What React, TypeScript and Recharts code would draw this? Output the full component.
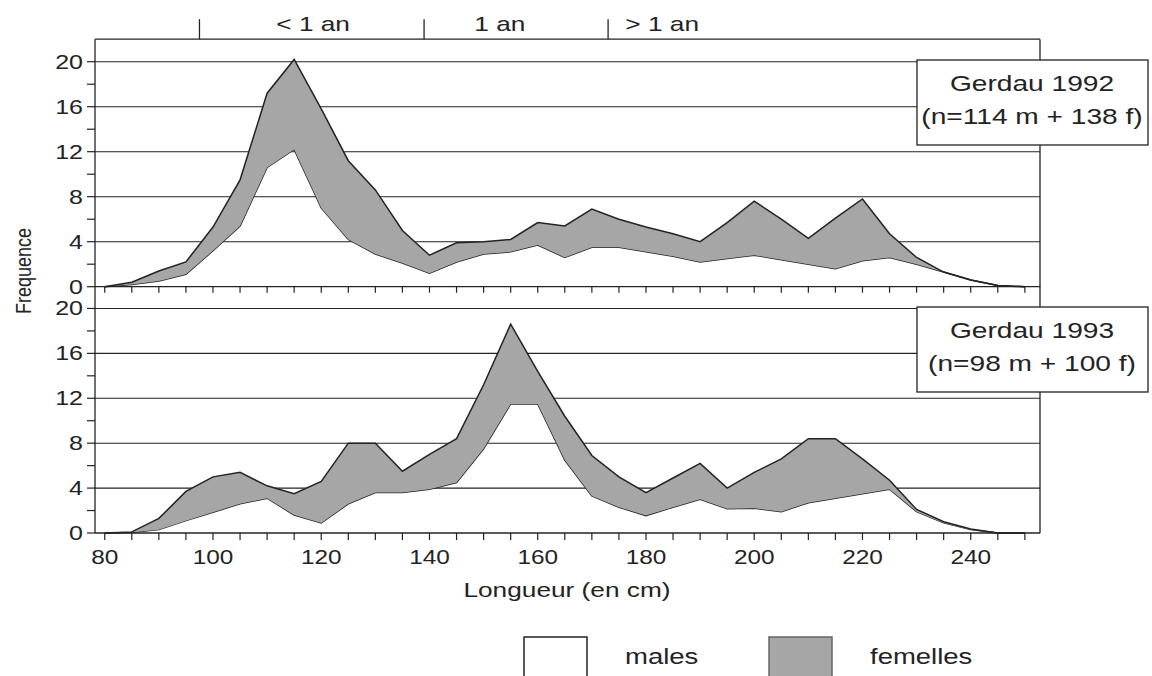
import React from 'react';
import { AreaChart, Area, XAxis, YAxis, CartesianGrid, ReferenceLine, ReferenceDot } from 'recharts';

// Length classes (cm), 5 cm steps
const LENGTHS = [80, 85, 90, 95, 100, 105, 110, 115, 120, 125, 130, 135, 140, 145, 150, 155, 160, 165, 170, 175, 180, 185, 190, 195, 200, 205, 210, 215, 220, 225, 230, 235, 240, 245, 250];

// Gerdau 1992 : males / femelles (femelles stacked on males)
const MALES_1992 = [0, 0.2, 0.5, 1.1, 3.2, 5.4, 10.6, 12.2, 7.0, 4.2, 2.9, 2.1, 1.2, 2.2, 2.9, 3.1, 3.7, 2.6, 3.5, 3.5, 3.1, 2.7, 2.2, 2.5, 2.8, 2.4, 2.0, 1.6, 2.3, 2.6, 2.0, 1.3, 0.6, 0.1, 0];
const FEMELLES_1992 = [0, 0.2, 0.9, 1.1, 2.1, 4.1, 6.6, 8.0, 8.8, 7.0, 5.7, 2.9, 1.6, 1.7, 1.1, 1.1, 2.0, 2.8, 3.4, 2.5, 2.2, 2.0, 1.8, 3.2, 4.8, 3.6, 2.3, 4.5, 5.5, 2.1, 0.6, 0, 0, 0, 0];

// Gerdau 1993
const MALES_1993 = [0, 0.05, 0.3, 1.1, 1.85, 2.6, 3.1, 1.6, 0.9, 2.6, 3.6, 3.6, 3.9, 4.5, 7.5, 11.5, 11.5, 6.5, 3.3, 2.3, 1.55, 2.3, 3.0, 2.15, 2.2, 1.9, 2.7, 3.1, 3.5, 3.9, 1.9, 0.9, 0.3, 0, 0];
const FEMELLES_1993 = [0, 0.05, 1.0, 2.6, 3.15, 2.8, 1.1, 1.9, 3.7, 5.4, 4.4, 1.9, 3.1, 3.9, 5.7, 7.1, 2.9, 3.9, 3.6, 2.7, 2.05, 2.6, 3.2, 1.85, 3.2, 4.7, 5.7, 5.3, 3.1, 0.8, 0.2, 0.1, 0.05, 0, 0];

const X_LABELS = [80, 100, 120, 140, 160, 180, 200, 220, 240];
const Y_TICKS = [0, 2, 4, 6, 8, 10, 12, 14, 16, 18, 20];
const Y_LABELS = [0, 4, 8, 12, 16, 20];
const GRID_VALUES = [4, 8, 12, 16, 20];

// age classes drawn above the upper panel
const AGE_BOUNDS = [97.5, 139, 173];
const AGE_LABEL_AT = [118.5, 153, 183];
const AGE_LABELS = ['< 1 an', '1 an', '> 1 an'];

const PANEL_TITLES = ['Gerdau 1992', 'Gerdau 1993'];
const PANEL_COUNTS = ['(n=114 m + 138 f)', '(n=98 m + 100 f)'];
const SERIES_NAMES = ['males', 'femelles'];

const X_MIN = 78.2;
const X_MAX = 252.8;
const Y_MAX = 22;
const PX_PER_UNIT = 247.5 / Y_MAX; // panel plot height / y range

const FONT = '"Liberation Sans", Arial, Helvetica, sans-serif';
const INK = '#232323';
const GREY = '#a6a6a6';
const SX = 1.25; // lettering is set wide

const rows1992 = LENGTHS.map((len, i) => ({ len, males: MALES_1992[i], femelles: FEMELLES_1992[i] }));
const rows1993 = LENGTHS.map((len, i) => ({ len, males: MALES_1993[i], femelles: FEMELLES_1993[i] }));

const Wide = ({ x, y, size, anchor = 'middle', rotate = 0, children }: any) => (
  <text
    transform={`translate(${x} ${y}) scale(${SX} 1)${rotate ? ` rotate(${rotate})` : ''}`}
    textAnchor={anchor}
    fontSize={size}
    fontFamily={FONT}
    fill={INK}
  >
    {children}
  </text>
);

const renderYTick = ({ x, y, payload }: any) =>
  Y_LABELS.includes(payload.value) ? (
    <Wide x={x} y={y + 7} size={20} anchor="end">{payload.value}</Wide>
  ) : (
    <g />
  );

const renderXTick = ({ x, y, payload }: any) =>
  X_LABELS.includes(payload.value) ? (
    <Wide x={x} y={y + 22} size={19.5}>{payload.value}</Wide>
  ) : (
    <g />
  );

const renderNoLabel = () => <g />;

const axisLine = { stroke: INK, strokeWidth: 1.3 };
const tickLine = { stroke: INK, strokeWidth: 1.2 };

export default function App() {
  return (
    <div style={{ position: 'absolute', left: 0, top: 0, width: 1152, height: 676, background: '#fff', overflow: 'hidden' }}>
      {/* lower panel: 1993 */}
      <div style={{ position: 'absolute', left: 0, top: 280 }}>
        <AreaChart width={1152} height={330} data={rows1993} margin={{ top: 6, right: 112, bottom: 0, left: 0 }}>
          <CartesianGrid vertical={false} horizontalValues={GRID_VALUES} stroke={INK} strokeWidth={1.1} />
          <XAxis
            dataKey="len"
            type="number"
            domain={[X_MIN, X_MAX]}
            allowDataOverflow
            ticks={LENGTHS}
            interval={0}
            height={77}
            tickSize={7}
            tickMargin={2}
            tick={renderXTick}
            tickLine={tickLine}
            axisLine={axisLine}
          />
          <YAxis
            type="number"
            domain={[0, Y_MAX]}
            ticks={Y_TICKS}
            interval={0}
            width={95}
            tickSize={8}
            tickMargin={4}
            tick={renderYTick}
            tickLine={tickLine}
            axisLine={axisLine}
          />
          <ReferenceLine x={X_MAX} stroke={INK} strokeWidth={1.3} />
          <Area type="linear" dataKey="males" name={SERIES_NAMES[0]} stackId="s" fill="none" stroke={INK} strokeWidth={1.5} isAnimationActive={false} />
          <Area type="linear" dataKey="femelles" name={SERIES_NAMES[1]} stackId="s" fill={GREY} fillOpacity={1} stroke={INK} strokeWidth={1.5} isAnimationActive={false} />
        </AreaChart>
      </div>

      {/* upper panel: 1992, with age classes on top */}
      <div style={{ position: 'absolute', left: 0, top: 0 }}>
        <AreaChart width={1152} height={300} data={rows1992} margin={{ top: 39.2, right: 112, bottom: 0, left: 0 }}>
          <CartesianGrid vertical={false} horizontalValues={GRID_VALUES} stroke={INK} strokeWidth={1.1} />
          <XAxis
            dataKey="len"
            type="number"
            domain={[X_MIN, X_MAX]}
            allowDataOverflow
            ticks={LENGTHS}
            interval={0}
            height={13.3}
            tickSize={6}
            tick={renderNoLabel}
            tickLine={tickLine}
            axisLine={axisLine}
          />
          <YAxis
            type="number"
            domain={[0, Y_MAX]}
            ticks={Y_TICKS}
            interval={0}
            width={95}
            tickSize={8}
            tickMargin={4}
            tick={renderYTick}
            tickLine={tickLine}
            axisLine={axisLine}
          />
          <ReferenceLine y={Y_MAX} stroke={INK} strokeWidth={1.3} />
          <ReferenceLine x={X_MAX} stroke={INK} strokeWidth={1.3} />
          {AGE_BOUNDS.map((b) => (
            <ReferenceLine
              key={b}
              segment={[{ x: b, y: Y_MAX }, { x: b, y: Y_MAX + 20 / PX_PER_UNIT }]}
              ifOverflow="visible"
              stroke={INK}
              strokeWidth={1.3}
            />
          ))}
          {AGE_LABEL_AT.map((pos, i) => (
            <ReferenceDot
              key={pos}
              x={pos}
              y={Y_MAX + 8 / PX_PER_UNIT}
              r={0}
              ifOverflow="visible"
              shape={(p: any) => <Wide x={p.cx} y={p.cy} size={21}>{AGE_LABELS[i]}</Wide>}
            />
          ))}
          <Area type="linear" dataKey="males" name={SERIES_NAMES[0]} stackId="s" fill="none" stroke={INK} strokeWidth={1.5} isAnimationActive={false} />
          <Area type="linear" dataKey="femelles" name={SERIES_NAMES[1]} stackId="s" fill={GREY} fillOpacity={1} stroke={INK} strokeWidth={1.5} isAnimationActive={false} />
        </AreaChart>
      </div>

      {/* titles, axis names and legend */}
      <svg width={1152} height={676} style={{ position: 'absolute', left: 0, top: 0, pointerEvents: 'none' }}>
        {PANEL_TITLES.map((title, i) => {
          const top = i === 0 ? 60 : 307;
          return (
            <g key={title}>
              <rect x={917} y={top} width={231} height={85} fill="#fff" stroke={INK} strokeWidth={1.3} />
              <Wide x={1032} y={top + 31} size={22.5}>{title}</Wide>
              <Wide x={1032} y={top + 64} size={22.5}>{PANEL_COUNTS[i]}</Wide>
            </g>
          );
        })}
        <Wide x={31} y={271} size={18} rotate={-90}>Frequence</Wide>
        <Wide x={567} y={597} size={21}>Longueur (en cm)</Wide>
        {SERIES_NAMES.map((name, i) => {
          const x = 524 + i * 245;
          return (
            <g key={name}>
              <rect x={x} y={637} width={63} height={50} fill={i === 0 ? '#fff' : GREY} stroke={i === 0 ? INK : '#666'} strokeWidth={1.5} />
              <Wide x={x + 101} y={664} size={22} anchor="start">{name}</Wide>
            </g>
          );
        })}
      </svg>
    </div>
  );
}
